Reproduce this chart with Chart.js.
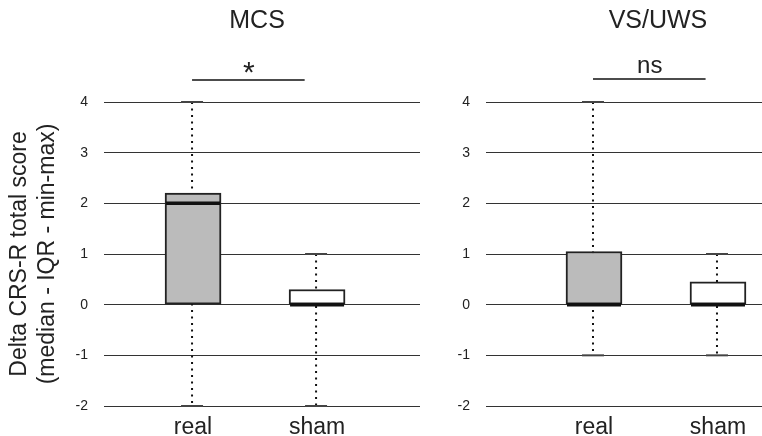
<!DOCTYPE html>
<html>
<head>
<meta charset="utf-8">
<script src="https://cdn.jsdelivr.net/npm/chart.js@4"></script>
<style>
  body { margin: 0; background: #fff; }
  #wrap { position: relative; width: 762px; height: 436px; }
  canvas { position: absolute; top: 0; }
</style>
</head>
<body>
<div id="wrap">
  <canvas id="mcsChart" width="430" height="436" style="left:0"></canvas>
  <canvas id="vsChart" width="332" height="436" style="left:430px"></canvas>
</div>
<script>
const groups = ["real", "sham"];
const panelTitles = ["MCS", "VS/UWS"];
const sigLabels = ["*", "ns"];
const yAxisTitle = ["Delta CRS-R total score", "(median - IQR - min-max)"];

// MCS box stats
const mcsMin = [-2, -2];
const mcsQ1 = [0, 0];
const mcsMedian = [2, 0];
const mcsQ3 = [2.2, 0.3];
const mcsMax = [4, 1];

// VS/UWS box stats
const vsMin = [-1, -1];
const vsQ1 = [0, 0];
const vsMedian = [0, 0];
const vsQ3 = [1.05, 0.45];
const vsMax = [4, 1];

const boxColors = ["#bbbbbb", "#ffffff"];
const FONT = '"Liberation Sans", Arial, sans-serif';

const boxPlugin = {
  id: "boxExtras",
  beforeDatasetsDraw(chart) {
    const st = chart.options.plugins.boxExtras;
    const x = chart.scales.x, y = chart.scales.y;
    const ctx = chart.ctx;
    ctx.save();
    ctx.strokeStyle = "#111";
    ctx.lineWidth = 2;
    ctx.setLineDash([2, 4.5]);
    groups.forEach((g, i) => {
      const px = x.getPixelForValue(i + 1) - 1;
      ctx.beginPath();
      ctx.moveTo(px, y.getPixelForValue(st.max[i]));
      ctx.lineTo(px, y.getPixelForValue(st.min[i]));
      ctx.stroke();
    });
    ctx.restore();
  },
  afterDatasetsDraw(chart) {
    const st = chart.options.plugins.boxExtras;
    const x = chart.scales.x, y = chart.scales.y;
    const ctx = chart.ctx;
    const bars = chart.getDatasetMeta(0).data;
    ctx.save();
    groups.forEach((g, i) => {
      const px = x.getPixelForValue(i + 1) - 1;
      // caps
      ctx.strokeStyle = "#444";
      ctx.lineWidth = 2;
      [st.min[i], st.max[i]].forEach(v => {
        const py = y.getPixelForValue(v);
        ctx.beginPath();
        ctx.moveTo(px - 11, py);
        ctx.lineTo(px + 11, py);
        ctx.stroke();
      });
      // median
      const b = bars[i];
      const my = y.getPixelForValue(st.median[i]);
      ctx.strokeStyle = "#111";
      ctx.lineWidth = 3.5;
      ctx.beginPath();
      ctx.moveTo(b.x - b.width / 2 + 1, my);
      ctx.lineTo(b.x + b.width / 2 - 1, my);
      ctx.stroke();
    });
    // panel title
    const x1 = x.getPixelForValue(1), x2 = x.getPixelForValue(2);
    ctx.fillStyle = "#222";
    ctx.textAlign = "center";
    ctx.textBaseline = "middle";
    ctx.font = "25px " + FONT;
    ctx.fillText(st.title, (x1 + x2) / 2 + 2, 21);
    // significance bar
    const sx2 = x.getPixelForValue(1.9);
    ctx.strokeStyle = "#111";
    ctx.lineWidth = 1.5;
    ctx.beginPath();
    ctx.moveTo(x1 - 1, st.sigY);
    ctx.lineTo(sx2, st.sigY);
    ctx.stroke();
    if (st.sig === "*") {
      ctx.font = "30px " + FONT;
      ctx.fillText(st.sig, (x1 + sx2) / 2, st.sigY - 6);
    } else {
      ctx.font = "24px " + FONT;
      ctx.fillText(st.sig, (x1 + sx2) / 2, st.sigY - 13);
    }
    ctx.restore();
  }
};

function makePanel(id, idx, mins, q1s, meds, q3s, maxs, xMin, xMax, axisW, padRight, showTitle) {
  return new Chart(document.getElementById(id), {
    type: "bar",
    data: {
      datasets: [{
        data: groups.map((g, i) => ({ x: i + 1, y: [q1s[i], q3s[i]] })),
        backgroundColor: boxColors,
        borderColor: "#222",
        borderWidth: 2,
        borderSkipped: false,
        barThickness: 56
      }]
    },
    options: {
      responsive: false,
      animation: false,
      layout: { padding: { top: 102, right: padRight, left: 0, bottom: 0 } },
      plugins: {
        legend: { display: false },
        tooltip: { enabled: false },
        boxExtras: {
          title: panelTitles[idx], sig: sigLabels[idx], sigY: idx === 0 ? 80 : 79,
          min: mins, median: meds, max: maxs
        }
      },
      scales: {
        x: {
          type: "linear",
          min: xMin,
          max: xMax,
          offset: false,
          grid: { display: false, offset: false },
          border: { display: false },
          afterBuildTicks: s => { s.ticks = groups.map((g, i) => ({ value: i + 1 })); },
          afterFit: s => { s.height = 30; },
          ticks: {
            autoSkip: false,
            maxRotation: 0,
            padding: 0,
            color: "#222",
            font: { family: FONT, size: 23 },
            callback: v => groups[v - 1]
          }
        },
        y: {
          min: -2,
          max: 4,
          afterFit: s => { s.width = axisW; },
          grid: { color: "#333", lineWidth: 1, drawTicks: false },
          border: { display: false },
          ticks: {
            stepSize: 1,
            padding: 16,
            color: "#222",
            font: { family: FONT, size: 14 }
          },
          title: {
            display: showTitle,
            text: yAxisTitle,
            color: "#222",
            padding: { top: 6, bottom: 0 },
            font: { family: FONT, size: 23, lineHeight: 1.2 }
          }
        }
      }
    },
    plugins: [boxPlugin]
  });
}

makePanel("mcsChart", 0, mcsMin, mcsQ1, mcsMedian, mcsQ3, mcsMax, 0.282, 2.83, 104, 10, true);
makePanel("vsChart", 1, vsMin, vsQ1, vsMedian, vsQ3, vsMax, 0.129, 2.355, 56, 0, false);
</script>
</body>
</html>
